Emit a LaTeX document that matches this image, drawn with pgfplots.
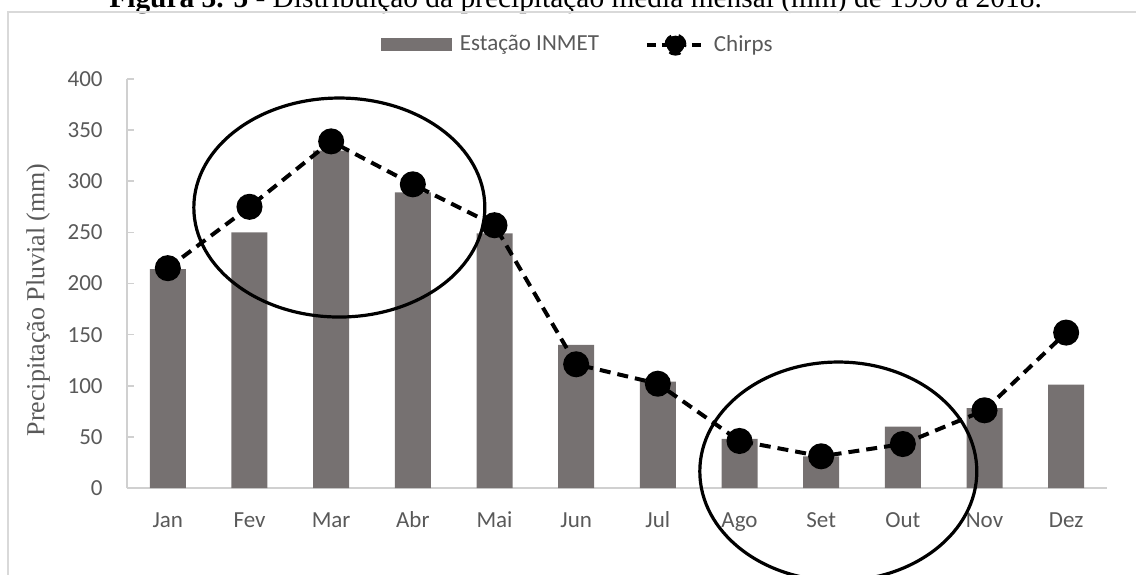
\documentclass[border=0pt]{standalone}
\usepackage{pgfplots}
\pgfplotsset{compat=1.18}
\usepackage{fontspec}
\setmainfont{Liberation Serif}
\newfontfamily\calibri{Carlito}

\definecolor{barc}{HTML}{767171}
\definecolor{txtc}{HTML}{595959}
\definecolor{axc}{HTML}{D0D0D0}
\definecolor{framec}{HTML}{D9D9D9}

\begin{document}
\begin{tikzpicture}
\useasboundingbox (0pt,0pt) rectangle (568pt,287pt);
\clip (0pt,0pt) rectangle (568pt,287pt);

% caption line (partly outside the page)
\node[anchor=base west, inner sep=0pt, font=\fontsize{14.7}{16}\selectfont] at (54.5pt,283pt)
  {\textbf{Figura 3. 5} - Distribuição da precipitação média mensal (mm) de 1990 a 2018.};

% chart area frame
\draw[framec, line width=0.8pt] (4pt,-10pt) rectangle (600pt,281pt);

\begin{axis}[
  at={(63.5pt,43pt)}, anchor=south west,
  width=490pt, height=204.5pt, scale only axis,
  xmin=-0.5, xmax=11.5, ymin=0, ymax=400,
  axis lines*=left,
  axis line style={draw=axc, line width=0.8pt},
  clip=false,
  xtick={0,...,11},
  xticklabels={Jan,Fev,Mar,Abr,Mai,Jun,Jul,Ago,Set,Out,Nov,Dez},
  ytick={0,50,...,400},
  tick align=inside,
  major tick length=3.5pt,
  ytick style={draw=axc, line width=0.8pt},
  xtick style={draw=none},
  /pgf/number format/assume math mode=true,
  yticklabel style={font=\calibri\fontsize{11.5}{13}\selectfont, text=txtc, anchor=east, inner sep=0pt, xshift=-12pt},
  xticklabel style={font=\calibri\fontsize{11.5}{13}\selectfont, text=txtc, anchor=base, inner sep=0pt, yshift=-19.5pt},
  ylabel={Precipitação Pluvial (mm)},
  ylabel style={font=\fontsize{13}{15}\selectfont, text=txtc, at={(axis description cs:-0.0908,0.46)}, anchor=center},
  legend columns=2,
  legend style={at={(0.461,1.084)}, anchor=center, draw=none, fill=none,
    font=\calibri\fontsize{11.5}{13}\selectfont, text=txtc,
    /tikz/every odd column/.append style={column sep=2pt},
    /tikz/every even column/.append style={column sep=21pt}},
]
\addplot[ybar, bar width=18pt, fill=barc, draw=none,
  legend image code/.code={\fill[barc] (0pt,-3.25pt) rectangle (35.5pt,3.25pt);}]
  coordinates {(0,214) (1,250) (2,330) (3,289) (4,249) (5,140) (6,104) (7,48) (8,31) (9,60) (10,78) (11,101)};
\addlegendentry{Estação INMET}

\addplot[black, line width=2pt, dash pattern=on 5.5pt off 3.5pt,
  mark=*, mark size=5.5pt, mark options={solid, fill=black},
  legend image code/.code={
    \draw[black, line width=2pt, dash pattern=on 4.5pt off 3pt] (0pt,0pt) -- (28.5pt,0pt);
    \fill[black] (14.25pt,0pt) circle (4.5pt);}]
  coordinates {(0,215) (1,275) (2,339) (3,297) (4,257) (5,121) (6,102) (7,46) (8,31) (9,43) (10,76) (11,152)};
\addlegendentry{Chirps}

% highlighted periods
\draw[black, line width=1.6pt] (axis cs:2.10,274.3) ellipse [x radius=72.75pt, y radius=54.75pt];
\draw[black, line width=1.6pt] (axis cs:8.21,16.2) ellipse [x radius=69.25pt, y radius=54.7pt];
\end{axis}
\end{tikzpicture}
\end{document}
